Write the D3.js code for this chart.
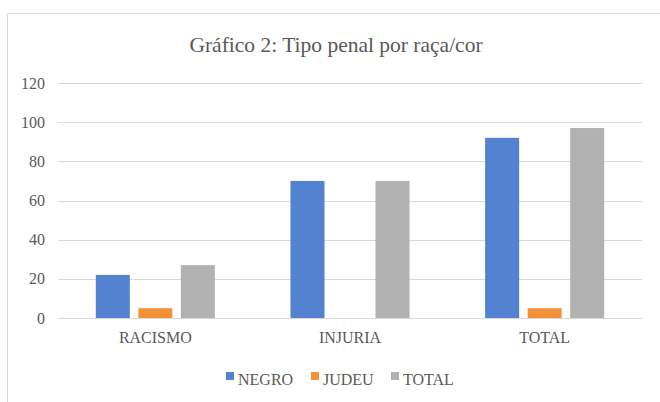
<!DOCTYPE html>
<html>
<head>
  <script src="https://d3js.org/d3.v7.min.js"></script>
  <style>
    body { margin: 0; background: #fff; }
    svg text { fill: #595959; font-family: "Liberation Serif", "Times New Roman", Times, serif !important; }
    .tick text { font-size: 16px; }
    .grid line { stroke: #d9d9d9; stroke-width: 1; }
    .title { font-size: 21.5px; }
    .legend text { font-size: 16px; }
  </style>
</head>
<body>
  <svg id="chart"></svg>
  <script>
    var categories = ["RACISMO", "INJURIA", "TOTAL"];
    var seriesNames = ["NEGRO", "JUDEU", "TOTAL"];
    var negro = [22, 70, 92];
    var judeu = [5, 0, 5];
    var total = [27, 70, 97];
    var yTicks = [0, 20, 40, 60, 80, 100, 120];
    var colors = ["#5282d0", "#f39239", "#b2b2b2"];

    var seriesValues = [negro, judeu, total];
    var rows = categories.map(function(c, i) {
      return { cat: c, values: seriesNames.map(function(s, j) { return { name: s, value: seriesValues[j][i] }; }) };
    });

    var W = 660, H = 402;
    var plotLeft = 58, plotRight = 642, plotTop = 83, plotBottom = 318;

    var svg = d3.select("#chart").attr("width", W).attr("height", H);

    // border (only left and top visible in the crop)
    svg.append("path")
      .attr("d", "M7.5," + H + "V13.5H" + W)
      .attr("fill", "none")
      .attr("stroke", "#d9d9d9");

    svg.append("text")
      .attr("class", "title")
      .attr("x", 336)
      .attr("y", 52)
      .attr("text-anchor", "middle")
      .text("Gráfico 2: Tipo penal por raça/cor");

    var x0 = d3.scaleBand().domain(categories).range([plotLeft, plotRight]).padding(0);
    var gap = 37.8;
    var x1 = d3.scaleBand().domain(seriesNames)
      .range([gap, x0.bandwidth() - gap])
      .paddingInner(0.2).paddingOuter(0);

    var y = d3.scaleLinear().domain([0, 120]).range([plotBottom, plotTop]);

    // grid
    svg.append("g")
      .attr("class", "grid")
      .selectAll("line")
      .data(yTicks)
      .enter().append("line")
      .attr("x1", plotLeft).attr("x2", plotRight)
      .attr("y1", function(d) { return Math.round(y(d)) + 0.5; })
      .attr("y2", function(d) { return Math.round(y(d)) + 0.5; });

    // y axis labels
    var yAxis = svg.append("g")
      .attr("transform", "translate(" + (plotLeft - 10) + ",0)")
      .call(d3.axisLeft(y).tickValues(yTicks).tickSize(0).tickPadding(3));
    yAxis.select(".domain").remove();

    // bars
    var groups = svg.selectAll(".grp")
      .data(rows)
      .enter().append("g")
      .attr("class", "grp")
      .attr("transform", function(d) { return "translate(" + x0(d.cat) + ",0)"; });

    groups.selectAll("rect")
      .data(function(d) { return d.values.filter(function(v) { return v.value > 0; }); })
      .enter().append("rect")
      .attr("x", function(d) { return x1(d.name); })
      .attr("width", x1.bandwidth())
      .attr("y", function(d) { return y(d.value); })
      .attr("height", function(d) { return y(0) - y(d.value); })
      .attr("fill", function(d) { return colors[seriesNames.indexOf(d.name)]; });

    // x axis labels
    var xAxis = svg.append("g")
      .attr("transform", "translate(0," + plotBottom + ")")
      .call(d3.axisBottom(x0).tickSize(0).tickPadding(14));
    xAxis.select(".domain").remove();

    // legend
    var legendX = [226, 311, 391];
    var legend = svg.append("g").attr("class", "legend");
    var item = legend.selectAll("g")
      .data(seriesNames)
      .enter().append("g")
      .attr("transform", function(d, i) { return "translate(" + legendX[i] + ",372)"; });
    item.append("rect")
      .attr("width", 8).attr("height", 8)
      .attr("fill", function(d, i) { return colors[i]; });
    item.append("text")
      .attr("x", 12).attr("y", 13)
      .text(function(d) { return d; });
  </script>
</body>
</html>
